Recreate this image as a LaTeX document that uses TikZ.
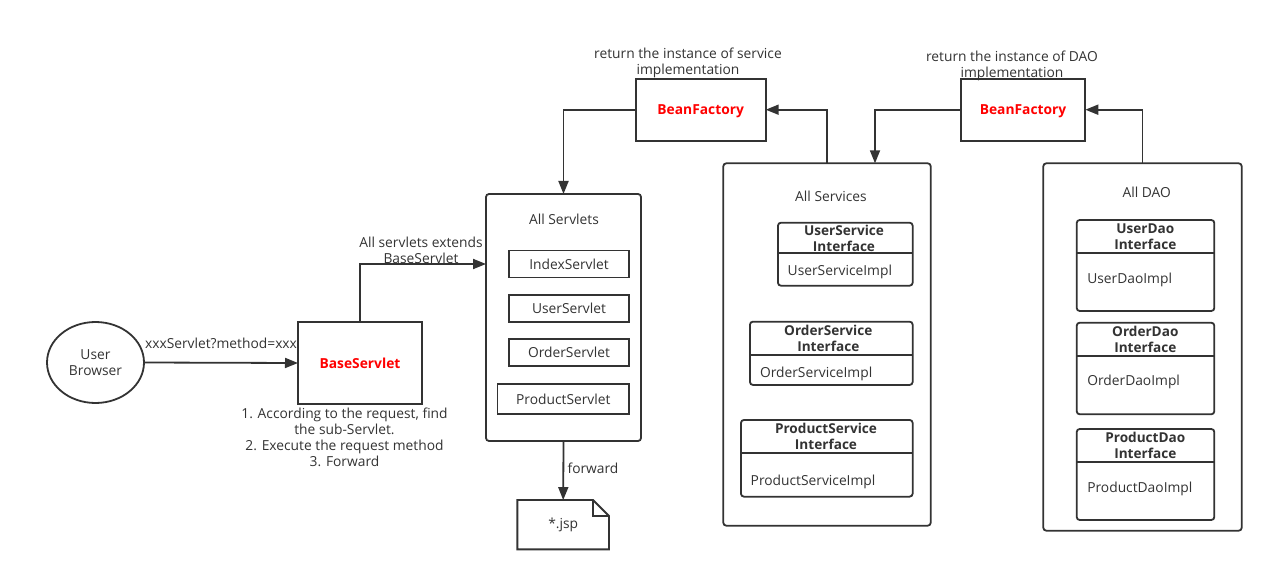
\documentclass[tikz,border=0pt]{standalone}
\usepackage{fontspec}
\setmainfont{Open Sans}
\usetikzlibrary{arrows.meta,shapes.geometric,calc}
\definecolor{ink}{HTML}{333333}
\definecolor{accent}{HTML}{FF0000}

\begin{document}
\begin{tikzpicture}[x=1pt,y=-1pt,
  every node/.style={font=\fontsize{13.8}{16}\selectfont, text=ink, inner sep=0pt, outer sep=0pt},
  box/.style={draw=ink, line width=1.8pt, rectangle},
  frame/.style={box, rounded corners=3pt},
  oval/.style={draw=ink, line width=1.8pt, ellipse},
  titled/.style={font=\bfseries\fontsize{13.6}{16}\selectfont, align=center},
  redtitle/.style={font=\bfseries\fontsize{13.8}{16}\selectfont, text=accent, text depth=0pt},
  caption/.style={align=center},
  impl/.style={anchor=west, yshift=-1.5pt},
  link/.style={draw=ink, line width=1.8pt, -{Triangle[length=13pt,width=10pt]}},
  rule/.style={draw=ink, line width=1.8pt},
]
% canvas
\fill[white] (0,0) rectangle (1274,580);
\useasboundingbox (0,0) rectangle (1274,580);

% ---- client side ----
\node[oval, minimum width=97, minimum height=81, align=center, text depth=0pt] (browser) at (95.5,362.5) {User\\Browser};
\node[box, minimum width=124, minimum height=82, redtitle] (base) at (360,363) {BaseServlet};
\node (reqlbl) at (221,343) {xxxServlet?method=xxx};
\node[caption] (steps) at (344.5,437) {1. According to the request, find\\the sub-Servlet.\\2. Execute the request method\\3. Forward};
\draw[link] (browser.east) -- (base.west);

% ---- servlets ----
\node[frame, minimum width=155, minimum height=247] (servlets) at (563.5,317.5) {};
\node (servletsttl) at (564,219) {All Servlets};
\node[box, minimum width=120, minimum height=27] (index) at (569,264) {IndexServlet};
\node[box, minimum width=120, minimum height=27] (user) at (569,308.5) {UserServlet};
\node[box, minimum width=120, minimum height=27] (order) at (569,352.5) {OrderServlet};
\node[box, minimum width=131.7, minimum height=30] (product) at (563.3,399) {ProductServlet};
\node[caption] (extlbl) at (421,250.5) {All servlets extends\\BaseServlet};
\draw[link] (base.north) |- (servlets.west |- index.center);

% ---- jsp page ----
\node[minimum width=91.7, minimum height=49.3] (jsp) at (563.2,524.7) {*.jsp};
\draw[rule, line join=miter] (jsp.north west) -- ($(jsp.north east)+(-16,0)$) -- ($(jsp.north east)+(0,16)$)
  -- (jsp.south east) -- (jsp.south west) -- cycle;
\draw[rule, line join=miter] ($(jsp.north east)+(-16,0)$) -- ++(0,16) -- ++(16,0);
\draw[link] (servlets.south) -- (jsp.north);
\node (fwdlbl) at (593,468) {forward};

% ---- bean factories ----
\node[box, minimum width=130, minimum height=62, redtitle] (bf1) at (700.7,109.7) {BeanFactory};
\node[caption] (bf1lbl) at (688,62.5) {return the instance of service\\implementation};
\node[box, minimum width=124.6, minimum height=62, redtitle] (bf2) at (1023,109.7) {BeanFactory};
\node[caption] (bf2lbl) at (1012,66) {return the instance of DAO\\implementation};

% ---- services ----
\node[frame, minimum width=207.4, minimum height=362.4] (services) at (827,344.5) {};
\node (servicesttl) at (831,196) {All Services};

\node[frame, minimum width=134.7, minimum height=63] (usvc) at (845.3,254.2) {};
\node[titled] (usvct) at (844,238) {UserService\\Interface};
\draw[rule] (usvc.west |- 0,252.7) -- (usvc.east |- 0,252.7);
\node[impl] (usvci) at (787.7,270) {UserServiceImpl};

\node[frame, minimum width=162.7, minimum height=63.3] (osvc) at (831.3,353.3) {};
\node[titled] (osvct) at (828.3,338.7) {OrderService\\Interface};
\draw[rule] (osvc.west |- 0,355) -- (osvc.east |- 0,355);
\node[impl] (osvci) at (760,372.7) {OrderServiceImpl};

\node[frame, minimum width=171.7, minimum height=76.7] (psvc) at (826.8,458.3) {};
\node[titled] (psvct) at (826,436.7) {ProductService\\Interface};
\draw[rule] (psvc.west |- 0,452.7) -- (psvc.east |- 0,452.7);
\node[impl] (psvci) at (750.7,480) {ProductServiceImpl};

% ---- DAO ----
\node[frame, minimum width=198.4, minimum height=367.4] (dao) at (1142.5,347) {};
\node (daottl) at (1146.7,192.7) {All DAO};

\node[frame, minimum width=137.6, minimum height=91] (udao) at (1145.5,265.5) {};
\node[titled] (udaot) at (1145.3,237) {UserDao\\Interface};
\draw[rule] (udao.west |- 0,252.7) -- (udao.east |- 0,252.7);
\node[impl] (udaoi) at (1087.3,278.3) {UserDaoImpl};

\node[frame, minimum width=137.6, minimum height=91.6] (odao) at (1145.5,368.5) {};
\node[titled] (odaot) at (1145.3,339.7) {OrderDao\\Interface};
\draw[rule] (odao.west |- 0,355.7) -- (odao.east |- 0,355.7);
\node[impl] (odaoi) at (1087.3,380.7) {OrderDaoImpl};

\node[frame, minimum width=137.6, minimum height=91] (pdao) at (1145.5,474.5) {};
\node[titled] (pdaot) at (1145.3,445.7) {ProductDao\\Interface};
\draw[rule] (pdao.west |- 0,462.3) -- (pdao.east |- 0,462.3);
\node[impl] (pdaoi) at (1087.3,487.7) {ProductDaoImpl};

% ---- factory connectors ----
\draw[link] (bf1.west) -| (servlets.north);
\draw[link] (services.north) |- (bf1.east);
\coordinate (svcin) at ($(services.north)+(48,0)$);
\draw[link] (bf2.west) -| (svcin);
\draw[link] (dao.north) |- (bf2.east);
\end{tikzpicture}
\end{document}
